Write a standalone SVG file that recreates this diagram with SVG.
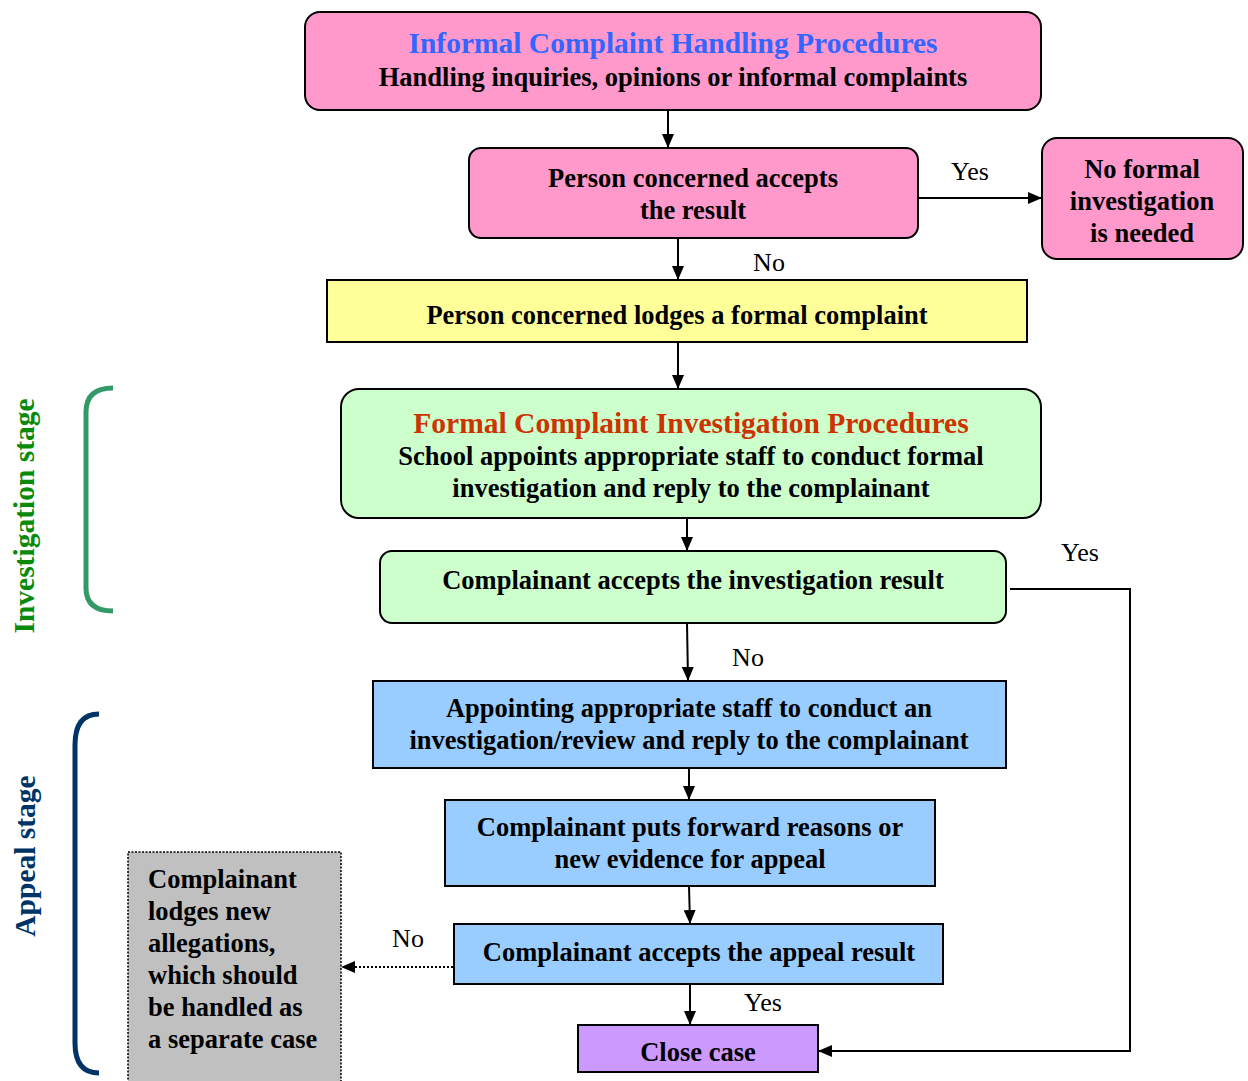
<svg xmlns="http://www.w3.org/2000/svg" width="1248" height="1081" viewBox="0 0 1248 1081">
<style>
.b{stroke:#000;stroke-width:2}
.t{font-family:"Liberation Serif","Times New Roman",serif;font-weight:bold;font-size:26.5px;fill:#000;text-anchor:middle}
.h{font-size:29.5px}
.l{font-family:"Liberation Serif","Times New Roman",serif;font-size:26px;fill:#000;text-anchor:middle}
.c{stroke:#000;stroke-width:2;fill:none}
.s{text-anchor:start}
</style>
<defs>
<marker id="ah" markerWidth="14" markerHeight="12" refX="13" refY="6" orient="auto" markerUnits="userSpaceOnUse" viewBox="0 0 14 12">
<path d="M0,0 L14,6 L0,12 z" fill="#000"/>
</marker>
</defs>
<rect width="1248" height="1081" fill="#fff"/>

<g id="connectors">
<line class="c" x1="668" y1="110" x2="668" y2="147" marker-end="url(#ah)"/>
<line class="c" x1="918" y1="198" x2="1041" y2="198" marker-end="url(#ah)"/>
<line class="c" x1="678" y1="238" x2="678" y2="279" marker-end="url(#ah)"/>
<line class="c" x1="678" y1="342" x2="678" y2="388" marker-end="url(#ah)"/>
<line class="c" x1="687" y1="518" x2="687" y2="550" marker-end="url(#ah)"/>
<line class="c" x1="687" y1="623" x2="688" y2="680" marker-end="url(#ah)"/>
<line class="c" x1="689" y1="768" x2="689" y2="799" marker-end="url(#ah)"/>
<line class="c" x1="689" y1="886" x2="690" y2="923" marker-end="url(#ah)"/>
<line class="c" x1="690" y1="984" x2="690" y2="1024" marker-end="url(#ah)"/>
<polyline class="c" points="1010,589 1130,589 1130,1051 819,1051" marker-end="url(#ah)"/>
<line class="c" x1="453" y1="967" x2="342" y2="967" stroke-dasharray="2,2" marker-end="url(#ah)"/>
<text class="l" x="970" y="180">Yes</text>
<text class="l" x="769" y="271">No</text>
<text class="l" x="1080" y="561">Yes</text>
<text class="l" x="748" y="666">No</text>
<text class="l" x="408" y="947">No</text>
<text class="l" x="763" y="1011">Yes</text>
</g>

<g id="n1">
<rect class="b" x="305" y="12" width="736" height="98" rx="15" fill="#FF99CC"/>
<text class="t h" x="673" y="53" style="fill:#3366FF">Informal Complaint Handling Procedures</text>
<text class="t" x="673" y="86">Handling inquiries, opinions or informal complaints</text>
</g>
<g id="n2">
<rect class="b" x="469" y="148" width="449" height="90" rx="12" fill="#FF99CC"/>
<text class="t" x="693" y="187">Person concerned accepts</text>
<text class="t" x="693" y="219">the result</text>
</g>
<g id="n3">
<rect class="b" x="1042" y="138" width="201" height="121" rx="15" fill="#FF99CC"/>
<text class="t" x="1142" y="178">No formal</text>
<text class="t" x="1142" y="210">investigation</text>
<text class="t" x="1142" y="242">is needed</text>
</g>
<g id="n4">
<rect class="b" x="327" y="280" width="700" height="62" fill="#FFFF99"/>
<text class="t" x="677" y="324">Person concerned lodges a formal complaint</text>
</g>
<g id="n5">
<rect class="b" x="341" y="389" width="700" height="129" rx="18" fill="#CCFFCC"/>
<text class="t h" x="691" y="433" style="fill:#CC3300">Formal Complaint Investigation Procedures</text>
<text class="t" x="691" y="465">School appoints appropriate staff to conduct formal</text>
<text class="t" x="691" y="497">investigation and reply to the complainant</text>
</g>
<g id="n6">
<rect class="b" x="380" y="551" width="626" height="72" rx="12" fill="#CCFFCC"/>
<text class="t" x="693" y="589">Complainant accepts the investigation result</text>
</g>
<g id="n7">
<rect class="b" x="373" y="681" width="633" height="87" fill="#99CCFF"/>
<text class="t" x="689" y="717">Appointing appropriate staff to conduct an</text>
<text class="t" x="689" y="749">investigation/review and reply to the complainant</text>
</g>
<g id="n8">
<rect class="b" x="445" y="800" width="490" height="86" fill="#99CCFF"/>
<text class="t" x="690" y="836">Complainant puts forward reasons or</text>
<text class="t" x="690" y="868">new evidence for appeal</text>
</g>
<g id="n9">
<rect class="b" x="454" y="924" width="489" height="60" fill="#99CCFF"/>
<text class="t" x="699" y="961">Complainant accepts the appeal result</text>
</g>
<g id="n10">
<rect class="b" x="578" y="1025" width="240" height="47" fill="#CC99FF"/>
<text class="t" x="698" y="1061">Close case</text>
</g>
<g id="n11">
<rect x="128" y="852" width="213" height="235" fill="#C0C0C0" stroke="#000" stroke-width="1.5" stroke-dasharray="2,1.5"/>
<text class="t s" x="148" y="888">Complainant</text>
<text class="t s" x="148" y="920">lodges new</text>
<text class="t s" x="148" y="952">allegations,</text>
<text class="t s" x="148" y="984">which should</text>
<text class="t s" x="148" y="1016">be handled as</text>
<text class="t s" x="148" y="1048">a separate case</text>
</g>
<g id="investigation-stage">
<path d="M113,388 Q86,388 86,412 L86,588 Q86,611 113,611" fill="none" stroke="#339966" stroke-width="5"/>
<text class="t h" transform="translate(34,516) rotate(-90)" style="fill:#0A8A0A">Investigation stage</text>
</g>
<g id="appeal-stage">
<path d="M99,714 Q75,714 75,745 L75,1043 Q75,1073 99,1073" fill="none" stroke="#003366" stroke-width="5"/>
<text class="t h" transform="translate(35,856) rotate(-90)" style="fill:#003366">Appeal stage</text>
</g>
</svg>
